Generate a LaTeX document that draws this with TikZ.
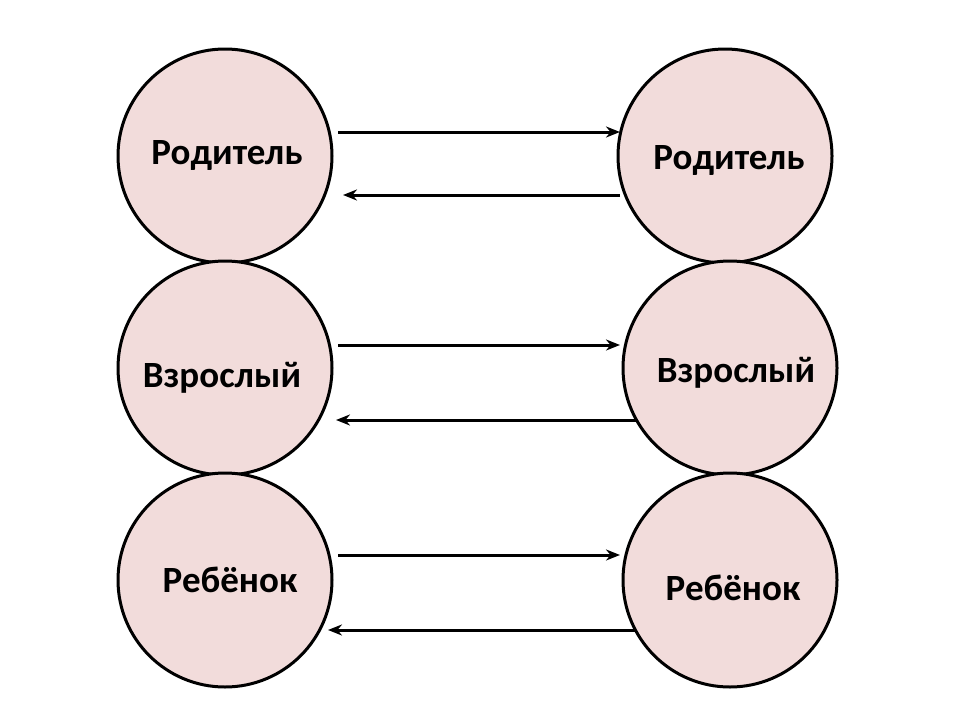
\documentclass[tikz,border=0pt]{standalone}
\usepackage{fontspec}
\setmainfont{Carlito}
\usetikzlibrary{arrows.meta}
\begin{document}
\begin{tikzpicture}[x=1pt,y=-1pt,
  circ/.style={circle,draw=black,line width=3pt,fill=pinkfill,minimum size=214pt,inner sep=0pt},
  lbl/.style={font=\bfseries\fontsize{37}{42}\selectfont},
  arr/.style={line width=3pt,-{Stealth[length=14pt,width=11pt]}}]
\definecolor{pinkfill}{HTML}{F2DCDB}
\useasboundingbox (0,0) rectangle (960,720);
\node[circ] (l1) at (225,156) {};
\node[circ] (r1) at (725,156) {};
\node[circ] (l2) at (225,368) {};
\node[circ] (r2) at (730,368) {};
\node[circ] (l3) at (225,580) {};
\node[circ] (r3) at (730,580) {};
\node[lbl] (t1) at (227,155) {Родитель};
\node[lbl] (t2) at (729,160) {Родитель};
\node[lbl] (t3) at (222,378) {Взрослый};
\node[lbl] (t4) at (736,373) {Взрослый};
\node[lbl] (t5) at (230,580) {Ребёнок};
\node[lbl] (t6) at (733,588) {Ребёнок};
\coordinate (a1s) at (338,132); \coordinate (a1e) at (620,132);
\coordinate (b1s) at (620,195); \coordinate (b1e) at (343,195);
\coordinate (a2s) at (338,345); \coordinate (a2e) at (620,345);
\coordinate (b2s) at (636,420); \coordinate (b2e) at (336,420);
\coordinate (a3s) at (338,555); \coordinate (a3e) at (620,555);
\coordinate (b3s) at (636,630); \coordinate (b3e) at (328,630);
\draw[arr] (a1s) -- (a1e);
\draw[arr] (b1s) -- (b1e);
\draw[arr] (a2s) -- (a2e);
\draw[arr] (b2s) -- (b2e);
\draw[arr] (a3s) -- (a3e);
\draw[arr] (b3s) -- (b3e);
\end{tikzpicture}
\end{document}
